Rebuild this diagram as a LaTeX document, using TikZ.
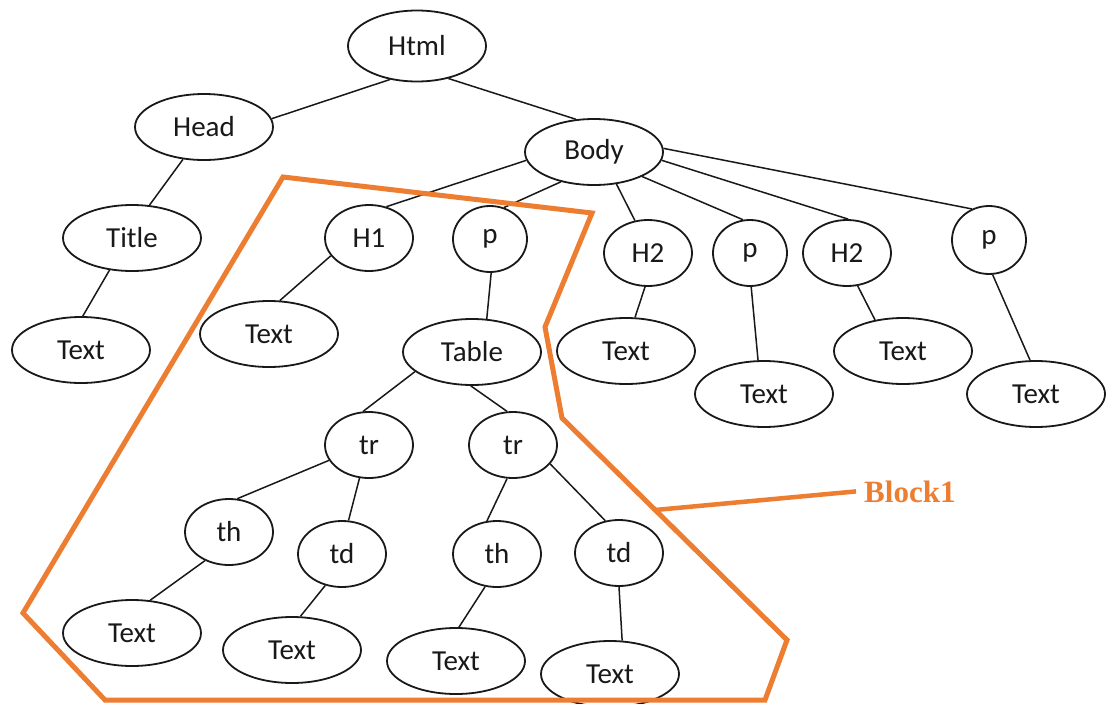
\documentclass[tikz,border=0pt]{standalone}
\usepackage{fontspec}
\setmainfont{Carlito}
\newfontfamily\blockfont{Liberation Serif}
\usetikzlibrary{shapes.geometric}
\definecolor{blockorange}{RGB}{237,125,49}
\definecolor{inkgray}{RGB}{25,25,25}
\begin{document}
\begin{tikzpicture}[x=1pt,y=-1pt,
  every node/.style={font=\fontsize{29}{32}\selectfont, text=inkgray},
  big/.style={ellipse, draw=inkgray, line width=1.8pt, minimum width=138pt,
              minimum height=66pt, inner sep=0pt},
  small/.style={big, minimum width=88pt},
  pnode/.style={big, minimum width=74pt},
  link/.style={draw=inkgray, line width=1.5pt},
  blockline/.style={draw=blockorange, line width=5pt, line join=miter}]

\fill[white] (0,0) rectangle (1114,704);
\useasboundingbox (0,0) rectangle (1114,704);

% document tree nodes
\node[big, minimum height=71pt] (html) at (417,46) {Html};
\node[big] (head) at (204,127) {Head};
\node[big] (body) at (594,152) {Body};
\node[big] (title) at (132,238) {Title};
\node[big] (titletext) at (81,350) {Text};
\node[small] (hone) at (369,238) {H1};
\node[pnode] (pa) at (490,239) {p};
\node[small] (htwoa) at (648,253) {H2};
\node[pnode] (pb) at (750,253) {p};
\node[small] (htwob) at (847,253) {H2};
\node[pnode, minimum height=68pt] (pc) at (989,240) {p};
\node[big] (honetext) at (269,334) {Text};
\node[big] (table) at (472,352) {Table};
\node[big] (htwoatext) at (626,351) {Text};
\node[big] (pbtext) at (764,394) {Text};
\node[big] (htwobtext) at (903,351) {Text};
\node[big] (pctext) at (1036,394) {Text};
\node[small] (tra) at (369,445) {tr};
\node[small] (trb) at (513,445) {tr};
\node[small] (tha) at (229,532) {th};
\node[small] (tda) at (342,554) {td};
\node[small] (thb) at (497,554) {th};
\node[small] (tdb) at (619,553) {td};
\node[big] (thatext) at (132,633) {Text};
\node[big] (tdatext) at (292,650) {Text};
\node[big] (thbtext) at (456,661) {Text};
\node[big] (tdbtext) at (610,674) {Text};

% parent-child links
\draw[link] (html.231) -- (head.7);
\draw[link] (html.314) -- (body.119);
\draw[link] (head.237) -- (title.62);
\draw[link] (title.235) -- (titletext.87);
\draw[link] (body.187) -- (hone.61);
\draw[link] (body.222) -- (pa.66);
\draw[link] (body.305) -- (htwoa.112);
\draw[link] (body.333) -- (pb.102);
\draw[link] (body.353) -- (htwob.88);
\draw[link] (body.3) -- (pc.119);
\draw[link] (hone.205) -- (honetext.72);
\draw[link] (pa.272) -- (table.66);
\draw[link] (htwoa.265) -- (htwoatext.75);
\draw[link] (pb.272) -- (pbtext.100);
\draw[link] (htwob.288) -- (htwobtext.132);
\draw[link] (pc.276) -- (pctext.100);
\draw[link] (table.199) -- (tra.100);
\draw[link] (table.268) -- (trb.100);
\draw[link] (tra.201) -- (tha.76);
\draw[link] (tra.254) -- (tda.79);
\draw[link] (trb.260) -- (thb.107);
\draw[link] (trb.333) -- (tdb.113);
\draw[link] (tha.230) -- (thatext.61);
\draw[link] (tda.242) -- (tdatext.76);
\draw[link] (thb.250) -- (thbtext.85);
\draw[link] (tdb.270) -- (tdbtext.70);

% outline of the highlighted block
\coordinate (ca) at (283,177);
\coordinate (cb) at (592,213);
\coordinate (cc) at (545,327);
\coordinate (cd) at (562,418);
\coordinate (ce) at (787,640);
\coordinate (cf) at (765,700);
\coordinate (cg) at (105,700);
\coordinate (ch) at (23,613);
\draw[blockline] (ca) -- (cb) -- (cc) -- (cd) -- (ce) -- (cf) -- (cg) -- (ch) -- cycle;

% label of the block
\node[anchor=base west, inner sep=0pt, inner xsep=8pt, text=blockorange,
      font=\blockfont\bfseries\fontsize{31}{34}\selectfont] (blocklabel) at (856,502) {Block1};
\coordinate (bstart) at (655,510);
\draw[blockline, line width=4.5pt] (bstart) -- (blocklabel.west);
\end{tikzpicture}
\end{document}
